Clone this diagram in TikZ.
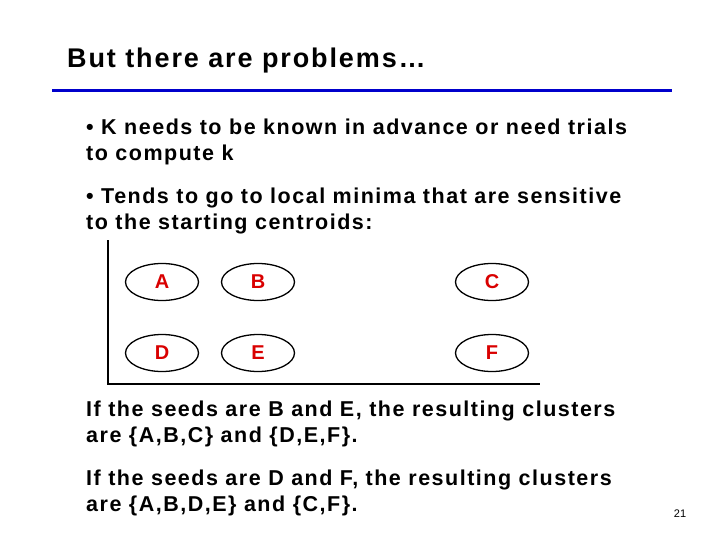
\documentclass[tikz,border=0pt]{standalone}
\usepackage{fontspec}
\setmainfont{Liberation Sans}
\usetikzlibrary{shapes.geometric}
\begin{document}
\begin{tikzpicture}[x=1pt,y=-1pt,
  txt/.style={anchor=north west,align=left,font=\bfseries\fontsize{21.5}{26}\selectfont\addfontfeatures{LetterSpace=7},inner sep=0pt},
  pt/.style={ellipse,draw,line width=1.3pt,minimum width=73pt,minimum height=37pt,text=red!85!black,font=\bfseries\fontsize{20}{20}\selectfont}]
\useasboundingbox (0,0) rectangle (720,540);
\node[anchor=west,inner sep=0pt,font=\bfseries\fontsize{27}{28}\selectfont\addfontfeatures{LetterSpace=7}] (title) at (67,61) {But there are problems…};
\draw[line width=3pt,blue!80!black] (52,91) coordinate (l1) -- (672,91) coordinate (l2);
\node[txt] (t1) at (86,119) {• K needs to be known in advance or need trials\\to compute k};
\node[txt] (t2) at (86,188) {• Tends to go to local minima that are sensitive\\to the starting centroids:};
\coordinate (o) at (108,384);
\coordinate (ytop) at (108,240);
\coordinate (xend) at (540,384);
\draw[line width=1.5pt] (ytop) -- (o) -- (xend);
\node[pt] (A) at (162,282) {A};
\node[pt] (B) at (258,282) {B};
\node[pt] (C) at (492,282) {C};
\node[pt] (D) at (162,353) {D};
\node[pt] (E) at (258,353) {E};
\node[pt] (F) at (492,353) {F};
\node[txt] (t3) at (86,401) {If the seeds are B and E, the resulting clusters\\are \{A,B,C\} and \{D,E,F\}.};
\node[txt] (t4) at (86,470) {If the seeds are D and F, the resulting clusters\\are \{A,B,D,E\} and \{C,F\}.};
\node[font=\fontsize{11}{12}\selectfont,inner sep=0pt] (pg) at (680,514) {21};
\end{tikzpicture}
\end{document}
